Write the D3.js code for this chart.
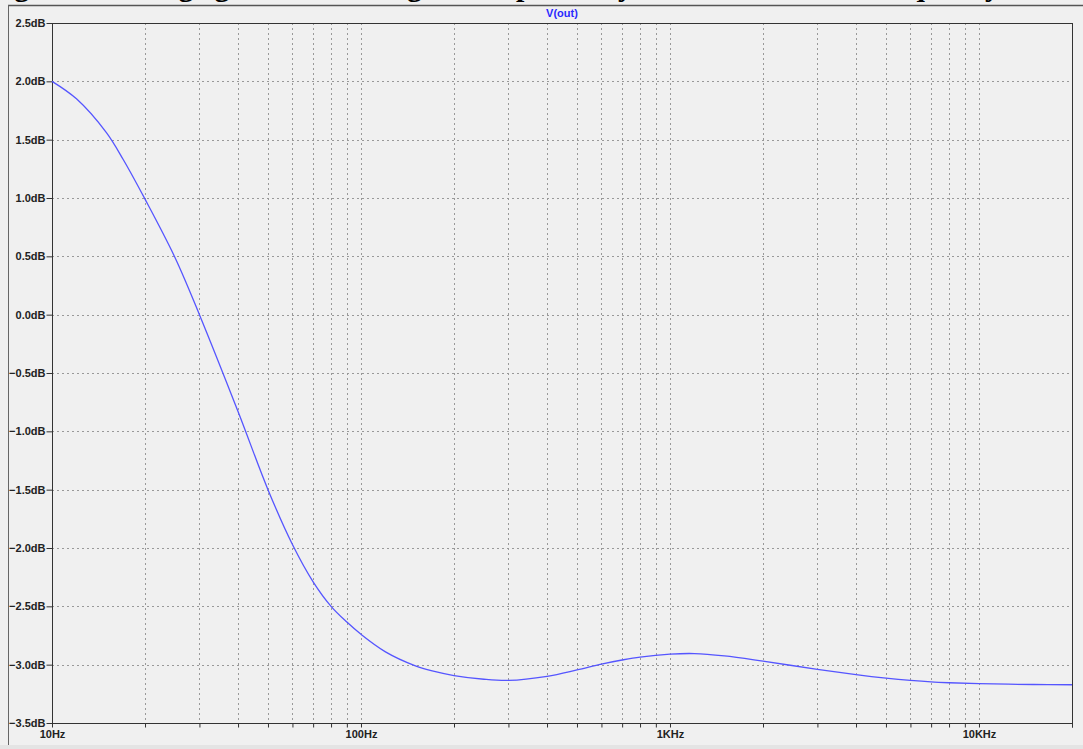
<!DOCTYPE html>
<html>
<head>
<meta charset="utf-8">
<script src="https://cdn.jsdelivr.net/npm/d3@7"></script>
<style>
  body { margin: 0; background: #f0f0f0; overflow: hidden; }
  svg { display: block; }
  .tick text { font-family: "Liberation Sans", Arial, sans-serif; font-weight: bold; font-size: 11px; fill: #222; }
</style>
</head>
<body>
<div id="chart"></div>
<script>
// frequency response V(out)
const freqs = [10, 12, 15, 17, 20, 25, 30, 40, 50, 60, 70, 80, 90, 100, 120, 150, 170, 200, 250, 300, 400, 500,
  600, 700, 800, 1000, 1200, 1500, 2000, 3000, 4000, 5000, 6000, 7000, 8000, 10000, 15000, 20000];
const gainDb = [2.0, 1.85, 1.56, 1.33, 0.99, 0.49, 0.0, -0.83, -1.5, -1.97, -2.29, -2.5, -2.635, -2.74, -2.89, -3.01, -3.054, -3.093, -3.125, -3.135, -3.10, -3.045,
  -2.995, -2.96, -2.935, -2.91, -2.905, -2.925, -2.97, -3.04, -3.085, -3.115, -3.135, -3.148, -3.155, -3.163, -3.17, -3.172];

const yTicks = [2.5, 2.0, 1.5, 1.0, 0.5, 0.0, -0.5, -1.0, -1.5, -2.0, -2.5, -3.0, -3.5];
const decadeTicks = [10, 100, 1000, 10000];
const decadeLabels = ['10Hz', '100Hz', '1KHz', '10KHz'];
const traceName = 'V(out)';
const title = 'Figure 8: Voltage gain of the designed amplifier by simulation versus frequency';

const width = 1083, height = 749;
const margin = { top: 23, right: 11, bottom: 26, left: 52 };

const svg = d3.select('#chart').append('svg')
  .attr('width', width)
  .attr('height', height);

// minor grid positions: 2..9 of every decade up to 20k
const gridFreqs = [];
decadeTicks.forEach(d => {
  for (let m = 1; m <= 9; m++) {
    const f = d * m;
    if (f <= 20000) gridFreqs.push(f);
  }
});
gridFreqs.push(20000);

const x = d3.scaleLog().domain([10, 20000]).range([margin.left, width - margin.right]);
const y = d3.scaleLinear().domain([-3.5, 2.5]).range([height - margin.bottom, margin.top]);

// title, mostly cut off by the top of the window
svg.append('text')
  .attr('x', 1000)
  .attr('y', -4)
  .attr('text-anchor', 'end')
  .style('font-family', '"Liberation Serif", "Times New Roman", serif')
  .style('font-weight', 'bold')
  .style('font-size', '30px')
  .text(title);

// window frame
svg.append('line').attr('x1', 8).attr('x2', width).attr('y1', 5.5).attr('y2', 5.5)
  .attr('stroke', '#555').attr('stroke-width', 1.5);
svg.append('line').attr('x1', 8.5).attr('x2', 8.5).attr('y1', 5).attr('y2', 745)
  .attr('stroke', '#666');
svg.append('rect').attr('x', 0).attr('y', 745).attr('width', width).attr('height', 4)
  .attr('fill', '#e4e4e4');

// grid
const grid = svg.append('g').attr('stroke', '#999').attr('stroke-dasharray', '2,3');
grid.selectAll('line.v')
  .data(gridFreqs.filter(f => f > 10 && f < 20000))
  .enter().append('line')
  .attr('x1', d => Math.round(x(d)) + 0.5)
  .attr('x2', d => Math.round(x(d)) + 0.5)
  .attr('y1', y(2.5))
  .attr('y2', y(-3.5));
grid.selectAll('line.h')
  .data(yTicks.filter(v => v > -3.5 && v < 2.5))
  .enter().append('line')
  .attr('x1', x(10))
  .attr('x2', x(20000))
  .attr('y1', d => Math.round(y(d)) + 0.5)
  .attr('y2', d => Math.round(y(d)) + 0.5);

// plot frame
svg.append('rect')
  .attr('x', x(10) + 0.5)
  .attr('y', y(2.5) + 0.5)
  .attr('width', x(20000) - x(10))
  .attr('height', y(-3.5) - y(2.5))
  .attr('fill', 'none')
  .attr('stroke', '#333');

// axes
const yAxis = d3.axisLeft(y)
  .tickValues(yTicks)
  .tickSize(6)
  .tickPadding(1)
  .tickFormat(d => d3.format('.1f')(d) + 'dB');
svg.append('g')
  .attr('transform', `translate(${x(10) + 0.5},0)`)
  .call(yAxis)
  .call(g => g.select('.domain').remove())
  .call(g => g.selectAll('.tick line').attr('stroke', '#333'));

const xAxis = d3.axisBottom(x)
  .tickValues(gridFreqs)
  .tickSize(4)
  .tickPadding(3)
  .tickFormat(d => {
    const i = decadeTicks.indexOf(d);
    return i >= 0 ? decadeLabels[i] : '';
  });
svg.append('g')
  .attr('transform', `translate(0,${y(-3.5) + 0.5})`)
  .call(xAxis)
  .call(g => g.select('.domain').remove())
  .call(g => g.selectAll('.tick line').attr('stroke', '#333'));

// trace label
svg.append('text')
  .attr('x', (x(10) + x(20000)) / 2)
  .attr('y', 17)
  .attr('text-anchor', 'middle')
  .style('font-family', '"Liberation Sans", Arial, sans-serif')
  .style('font-weight', 'bold')
  .style('font-size', '11px')
  .attr('fill', '#2a2aff')
  .text(traceName);

// the trace
const line = d3.line()
  .x((d, i) => x(freqs[i]))
  .y(d => y(d))
  .curve(d3.curveCatmullRom.alpha(0.5));

svg.append('path')
  .datum(gainDb)
  .attr('fill', 'none')
  .attr('stroke', '#5555ff')
  .attr('stroke-width', 1.3)
  .attr('d', line);
</script>
</body>
</html>
